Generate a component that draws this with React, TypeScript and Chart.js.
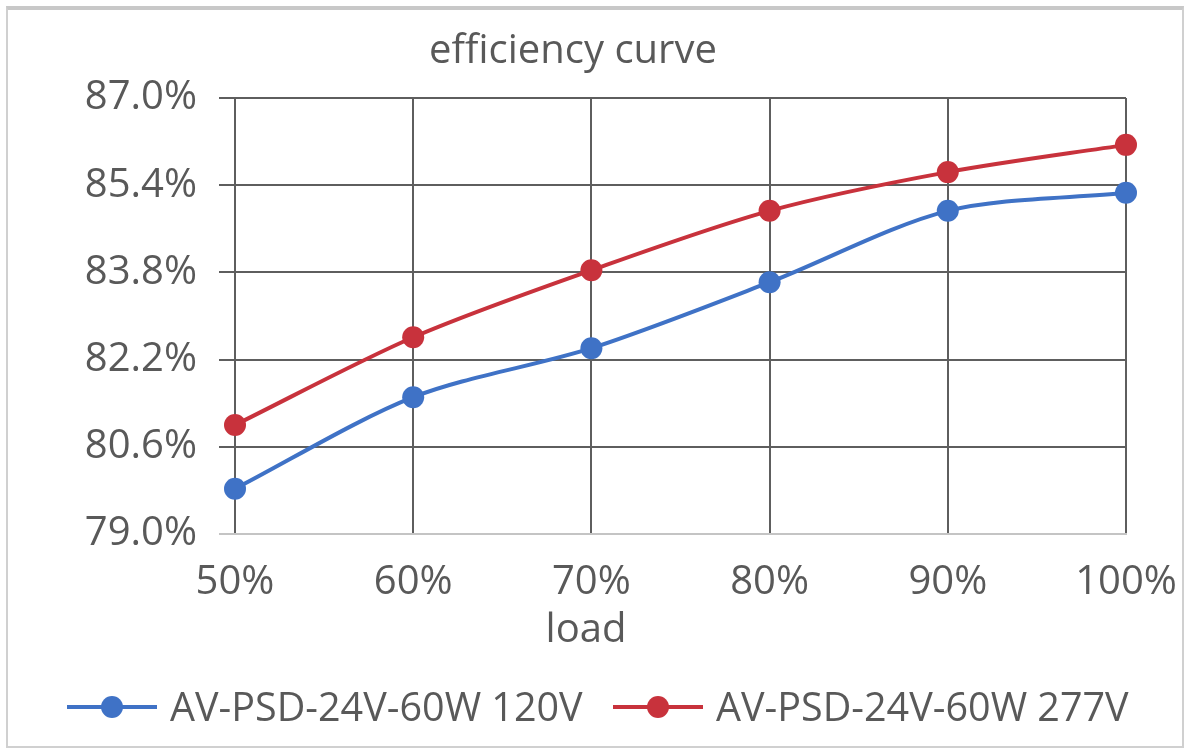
import React, { useEffect, useRef } from "react";
import { Chart, registerables } from "chart.js";

Chart.register(...registerables);

const loads = ["50%", "60%", "70%", "80%", "90%", "100%"];
const eff120 = [79.83, 81.51, 82.41, 83.62, 84.93, 85.26];
const eff277 = [81.0, 82.61, 83.84, 84.93, 85.64, 86.14];
const yTicks = [79.0, 80.6, 82.2, 83.8, 85.4, 87.0];
const seriesNames = ["AV-PSD-24V-60W 120V", "AV-PSD-24V-60W 277V"];
const titleText = "efficiency curve";
const xTitle = "load";

const BLUE = "#3f72c6";
const RED = "#c8323c";
const TEXT = "#595959";
const DARK = "#5e5e5e";
const LIGHT = "#c4c4c4";
const FONT = "'Open Sans', 'Noto Sans', sans-serif";

function LegendItem({ color, label, left }: { color: string; label: string; left: number }) {
  return (
    <div style={{ position: "absolute", left, top: 0, display: "flex", alignItems: "center", height: 40 }}>
      <svg width={90} height={30} style={{ marginRight: 13 }}>
        <line x1={0} y1={15} x2={90} y2={15} stroke={color} strokeWidth={4} />
        <circle cx={45} cy={15} r={11} fill={color} />
      </svg>
      <span>{label}</span>
    </div>
  );
}

export default function App() {
  const ref = useRef<HTMLCanvasElement>(null);
  useEffect(() => {
    document.body.style.margin = "0";
    const font = { family: FONT, size: 40, weight: "normal" as const };
    const chart = new Chart(ref.current!, {
      type: "line",
      data: {
        labels: loads,
        datasets: [
          {
            label: seriesNames[0],
            data: eff120,
            borderColor: BLUE,
            backgroundColor: BLUE,
            pointRadius: 11,
            pointBorderWidth: 0,
            borderWidth: 4,
            tension: 0.3,
            clip: false as any,
          },
          {
            label: seriesNames[1],
            data: eff277,
            borderColor: RED,
            backgroundColor: RED,
            pointRadius: 11,
            pointBorderWidth: 0,
            borderWidth: 4,
            tension: 0.3,
            clip: false as any,
          },
        ],
      },
      options: {
        responsive: false,
        animation: false,
        devicePixelRatio: 1,
        layout: { padding: { left: 20, right: 64, top: 0, bottom: 99 } },
        plugins: {
          legend: { display: false },
          tooltip: { enabled: false },
          title: {
            display: true,
            text: titleText,
            color: TEXT,
            font: { family: FONT, size: 40, weight: "normal" },
            padding: { top: 28, bottom: 22 },
          },
        },
        scales: {
          x: {
            offset: false,
            grid: { color: DARK, lineWidth: 2, drawTicks: false },
            border: { color: LIGHT, width: 2 },
            ticks: { color: TEXT, font, padding: 25, maxRotation: 0, autoSkip: false },
            afterFit: (s: any) => {
              s.height = 116;
              s.paddingLeft = 0;
              s.paddingRight = 0;
            },
          },
          y: {
            min: 79,
            max: 87,
            afterBuildTicks: (s: any) => {
              s.ticks = yTicks.map((v) => ({ value: v }));
            },
            grid: {
              color: (c: any) => (c.tick && Math.abs(c.tick.value - 79) < 1e-6 ? LIGHT : DARK),
              lineWidth: 2,
              tickLength: 16,
            },
            border: { display: false },
            ticks: {
              color: TEXT,
              font,
              padding: 22,
              callback: (v: any) => Number(v).toFixed(1) + "%",
            },
            afterFit: (s: any) => {
              s.width = 215;
            },
          },
        },
      },
    });
    return () => chart.destroy();
  }, []);

  return (
    <div style={{ position: "relative", width: 1190, height: 749, background: "#fff", overflow: "hidden" }}>
      <canvas ref={ref} width={1190} height={749} style={{ position: "absolute", left: 0, top: 0 }} />
      <div
        style={{
          position: "absolute",
          left: 6,
          top: 6,
          width: 1174,
          height: 736,
          borderLeft: "2px solid #d0d0d0",
          borderRight: "2px solid #d0d0d0",
          borderBottom: "2px solid #d0d0d0",
          borderTop: "4px solid #c8c8c8",
          pointerEvents: "none",
        }}
      />
      <div
        style={{
          position: "absolute",
          left: 486,
          width: 200,
          top: 603,
          height: 48,
          lineHeight: "48px",
          textAlign: "center",
          fontFamily: FONT,
          fontSize: 40,
          color: TEXT,
        }}
      >
        {xTitle}
      </div>
      <div
        style={{
          position: "absolute",
          left: 0,
          width: 1190,
          top: 687,
          height: 40,
          fontFamily: FONT,
          fontSize: 39.5,
          color: TEXT,
          lineHeight: 1,
        }}
      >
        <LegendItem color={BLUE} label={seriesNames[0]} left={67} />
        <LegendItem color={RED} label={seriesNames[1]} left={613} />
      </div>
    </div>
  );
}
